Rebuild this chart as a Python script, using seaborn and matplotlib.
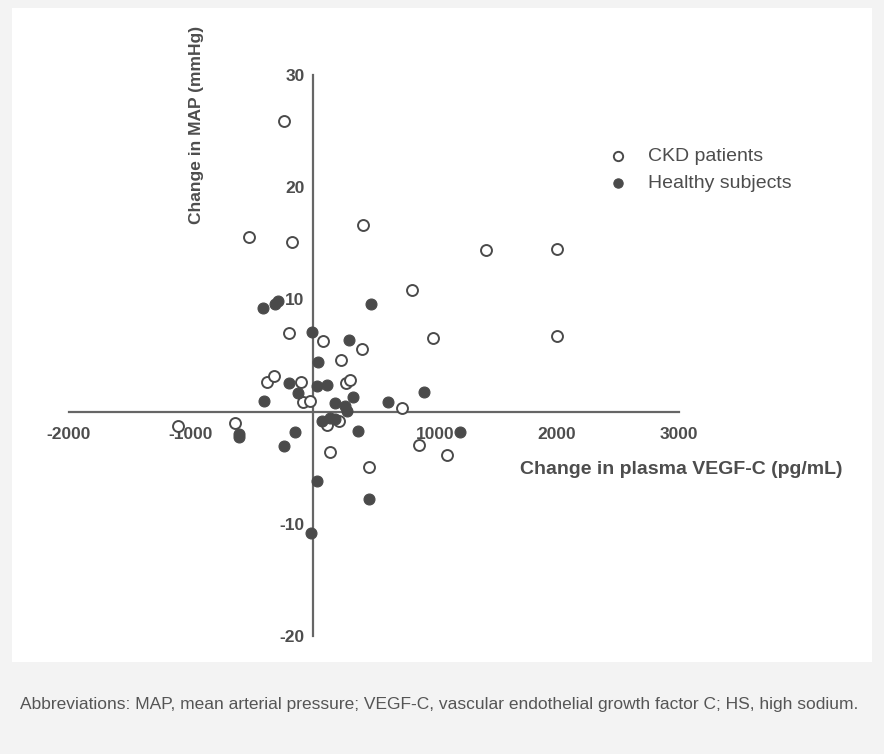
import matplotlib
matplotlib.use("Agg")
import matplotlib.pyplot as plt
import seaborn as sns
import pandas as pd
from matplotlib.patches import Rectangle

# ---- data ----
ckd_vegf = [-238, -525, -172, 407, 1418, 2000, 811, 984, 2000, -194, 84, 402, 227,
            -380, -317, -101, 268, 303, -80, -25, 727, -637, 112, 216, 139, 457,
            866, 1096, -1110]
ckd_map = [25.9, 15.6, 15.1, 16.6, 14.4, 14.5, 10.8, 6.6, 6.75, 7.0, 6.3, 5.6, 4.6,
           2.65, 3.15, 2.65, 2.56, 2.8, 0.87, 0.98, 0.33, -1.0, -1.16, -0.87, -3.6, -4.9,
           -3.0, -3.9, -1.25]
hs_vegf = [-407, -311, -284, 475, -6, 298, 44, -194, 30, 112, -125, -402, 178, 262,
           276, 330, 612, 912, 1205, 71, 139, 180, -607, -607, -150, -235, 366, 35,
           461, -19]
hs_map = [9.2, 9.6, 9.9, 9.6, 7.05, 6.4, 4.4, 2.55, 2.26, 2.4, 1.67, 0.92, 0.78, 0.54,
          0.05, 1.3, 0.87, 1.72, -1.85, -0.87, -0.56, -0.7, -2.0, -2.3, -1.8, -3.05,
          -1.7, -6.2, -7.8, -10.8]
group_labels = ["CKD patients", "Healthy subjects"]
x_ticks = [-2000, -1000, 1000, 2000, 3000]
y_ticks = [-20, -10, 10, 20, 30]
x_label = "Change in plasma VEGF-C (pg/mL)"
y_label = "Change in MAP (mmHg)"
caption = ("Abbreviations: MAP, mean arterial pressure; VEGF-C, vascular endothelial "
           "growth factor C; HS, high sodium.")

df = pd.DataFrame({
    "vegf": ckd_vegf + hs_vegf,
    "map": ckd_map + hs_map,
    "group": [group_labels[0]] * len(ckd_vegf) + [group_labels[1]] * len(hs_vegf),
})

sns.set_style("white")
plt.rcParams['font.family'] = ['Liberation Sans', 'DejaVu Sans']

W, H = 884, 754
fig = plt.figure(figsize=(W / 100, H / 100), dpi=100, facecolor="#f3f3f3")
fig.patches.append(Rectangle((12 / W, 1 - 662 / H), 860 / W, 654 / H,
                             transform=fig.transFigure, facecolor="white",
                             edgecolor="none", zorder=-5))

ax = fig.add_axes([69 / W, 1 - 636 / H, 610 / W, 561 / H])
ax.set_zorder(2)
ax.set_facecolor("none")
ax.patch.set_alpha(0)

dark = "#4a4a4a"
sns.scatterplot(data=df[df.group == group_labels[0]], x="vegf", y="map", ax=ax,
                marker="o", s=62, facecolor="white", edgecolor=dark, linewidth=1.4,
                label=group_labels[0], zorder=2.2, clip_on=False)
sns.scatterplot(data=df[df.group == group_labels[1]], x="vegf", y="map", ax=ax,
                marker="o", s=62, color=dark, edgecolor=dark, linewidth=0.8,
                label=group_labels[1], zorder=2.2, clip_on=False)

ax.set_xlim(-2000, 3000)
ax.set_ylim(-20, 30)
for side in ["top", "right"]:
    ax.spines[side].set_visible(False)
ax.spines["left"].set_position(("data", 0))
ax.spines["bottom"].set_position(("data", 0))
axis_col = "#666666"
for side in ["left", "bottom"]:
    ax.spines[side].set_color(axis_col)
    ax.spines[side].set_linewidth(1.6)
    ax.spines[side].set_zorder(2)

ax.set_xticks(x_ticks)
ax.set_yticks(y_ticks)
ax.set_xticklabels([str(v) for v in x_ticks])
ax.set_yticklabels([str(v) for v in y_ticks])
ax.tick_params(axis="both", direction="out", length=4, width=1.2, color=axis_col,
               labelsize=12.5, labelcolor="#4d4d4d")
ax.tick_params(axis="x", pad=7)
ax.tick_params(axis="y", pad=2)
for lab in ax.get_xticklabels() + ax.get_yticklabels():
    lab.set_fontweight("bold")
ax.set_xlabel("")
ax.set_ylabel("")

fig.text(681 / W, 1 - 470 / H, x_label, ha="center", va="center", fontsize=14,
         fontweight="bold", color="#4d4d4d")
fig.text(197 / W, 1 - 125 / H, y_label, ha="center", va="center", rotation=90,
         fontsize=12.5, fontweight="bold", color="#4d4d4d")

leg = ax.legend(loc="upper left", bbox_to_anchor=(600 / W, 1 - 140 / H),
                bbox_transform=fig.transFigure, frameon=False, fontsize=14,
                handlelength=1.0, handletextpad=1.05, labelspacing=0.45,
                borderaxespad=0, markerscale=0.85)
for t in leg.get_texts():
    t.set_color("#4d4d4d")

fig.text(20 / W, 1 - 705 / H, caption, ha="left", va="center", fontsize=12.5,
         color="#555555")

fig.savefig("out.png", dpi=100, facecolor=fig.get_facecolor())
